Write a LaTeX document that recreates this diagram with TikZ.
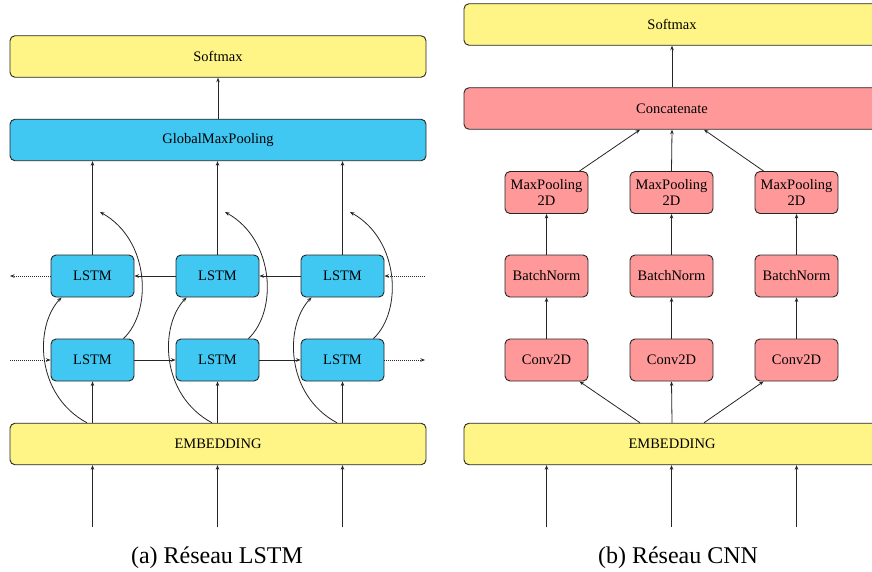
\documentclass[tikz,border=0pt]{standalone}
\usepackage{fontspec}
\setmainfont{Liberation Serif}
\usetikzlibrary{arrows.meta,calc}
\definecolor{yel}{HTML}{FFF587}
\definecolor{lblue}{HTML}{40C7F2}
\definecolor{lpink}{HTML}{FF9999}
\begin{document}
\begin{tikzpicture}[x=1pt,y=-1pt,
  box/.style={draw=black!85,line width=0.9pt,rounded corners=5pt,align=center,inner sep=0pt,font=\fontsize{14.5}{16}\selectfont},
  wide/.style={box,minimum width=416pt,minimum height=41.5pt},
  small/.style={box,minimum width=83pt,minimum height=42pt},
  arr/.style={-{Stealth[length=4.5pt,width=3.5pt]},line width=0.8pt,draw=black!85},
  dotarr/.style={arr,dash pattern=on 1pt off 1pt},
  captxt/.style={font=\fontsize{24}{28}\selectfont,inner sep=0pt,anchor=base}]
\clip (0,0) rectangle (872,572);
\fill[white] (0,0) rectangle (872,572);
% ---------- (a) LSTM ----------
\node[wide,fill=yel] (softA) at (218,56.5) {Softmax};
\node[wide,fill=lblue] (gmp) at (218,140) {GlobalMaxPooling};
\node[wide,fill=yel] (embA) at (218,444) {EMBEDDING};
\foreach \i/\x in {1/92.5,2/217.5,3/342.5}{
  \node[small,fill=lblue] (lt\i) at (\x,276) {LSTM};
  \node[small,fill=lblue] (lb\i) at (\x,360) {LSTM};
  \coordinate (inA\i) at (\x,527);
  \coordinate (cA\i) at (\x+7.5,212);
}
\draw[arr] (gmp) -- (softA);
\foreach \i in {1,2,3}{
  \draw[arr] (lt\i.north) -- (lt\i.north |- gmp.south);
  \draw[arr] (lb\i.south |- embA.north) -- (lb\i.south);
  \draw[arr] (inA\i) -- (inA\i |- embA.south);
  \draw[arr] ([xshift=-5.5pt]lb\i.south |- embA.north) .. controls +(-52,-28) and +(-27,28) .. ([xshift=11pt]lt\i.south west);
  \draw[arr] ([xshift=-11pt]lb\i.north east) .. controls +(29,-27) and +(50,28) .. (cA\i);
}
\coordinate (lA) at (10,276);
\coordinate (rA) at (425,276);
\coordinate (lB) at (10,360);
\coordinate (rB) at (425,360);
\draw[dotarr] (lB) -- (lb1.west);
\draw[arr] (lb1) -- (lb2);
\draw[arr] (lb2) -- (lb3);
\draw[dotarr] (lb3.east) -- (rB);
\draw[dotarr] (lt1.west) -- (lA);
\draw[arr] (lt2) -- (lt1);
\draw[arr] (lt3) -- (lt2);
\draw[dotarr] (rA) -- (lt3.east);
\node[captxt] (capA) at (217,563) {(a) Réseau LSTM};
% ---------- (b) CNN ----------
\node[wide,fill=yel] (softB) at (672,24.5) {Softmax};
\node[wide,fill=lpink] (concat) at (672,108.5) {Concatenate};
\node[wide,fill=yel] (embB) at (672,444) {EMBEDDING};
\foreach \i/\x in {1/546.5,2/671.5,3/796.5}{
  \node[small,fill=lpink] (mp\i) at (\x,192.5) {MaxPooling\\2D};
  \node[small,fill=lpink] (bn\i) at (\x,276) {BatchNorm};
  \node[small,fill=lpink] (cv\i) at (\x,360) {Conv2D};
  \coordinate (inB\i) at (\x,527);
  \draw[arr] (bn\i) -- (mp\i);
  \draw[arr] (cv\i) -- (bn\i);
  \draw[arr] (inB\i) -- (inB\i |- embB.south);
}
\draw[arr] (concat) -- (softB);
\draw[arr] ([xshift=-32pt]embB.north) -- ([xshift=-9pt]cv1.south east);
\draw[arr] (embB.north) -- (cv2.south);
\draw[arr] ([xshift=32pt]embB.north) -- ([xshift=9pt]cv3.south west);
\draw[arr] ([xshift=-9pt]mp1.north east) -- ([xshift=-32pt]concat.south);
\draw[arr] (mp2.north) -- (concat.south);
\draw[arr] ([xshift=9pt]mp3.north west) -- ([xshift=32pt]concat.south);
\node[captxt] (capB) at (678,563) {(b) Réseau CNN};
\end{tikzpicture}
\end{document}
